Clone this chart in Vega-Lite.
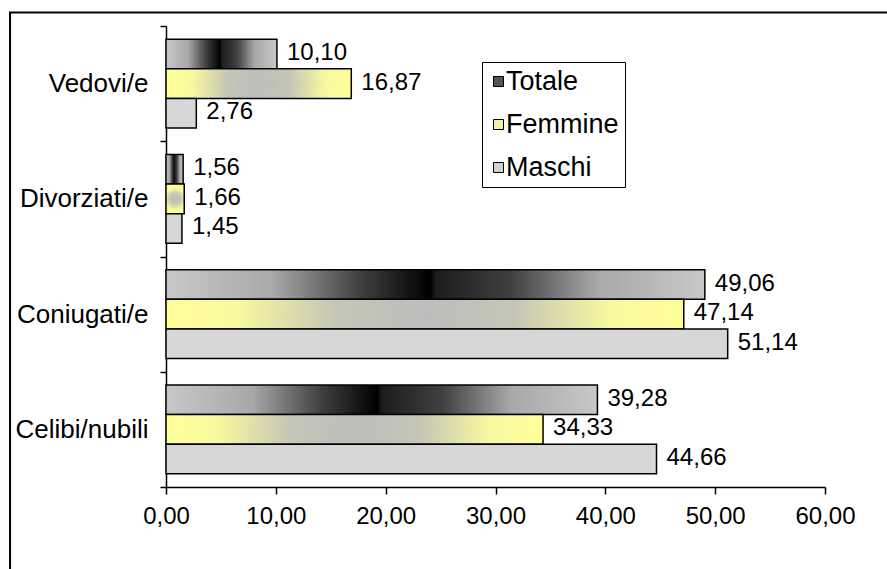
{
  "$schema": "https://vega.github.io/schema/vega-lite/v6.json",
  "width": 659,
  "height": 461,
  "autosize": {"type": "none"},
  "padding": {"left": 166, "top": 26, "right": 62, "bottom": 82},
  "background": "white",
  "config": {
    "locale": {"number": {"decimal": ",", "thousands": ".", "grouping": [3], "currency": ["", " €"]}},
    "font": "Liberation Sans",
    "view": {"stroke": null},
    "axis": {
      "labelFont": "Liberation Sans",
      "labelFontSize": 24,
      "labelColor": "black",
      "domainColor": "black",
      "domainWidth": 1.5,
      "tickColor": "black",
      "tickWidth": 1.5,
      "grid": false,
      "title": null
    },
    "legend": {
      "labelFont": "Liberation Sans",
      "labelFontSize": 27,
      "labelColor": "black"
    }
  },
  "layer": [
    {
      "description": "outer frame of the chart area",
      "data": {"values": [{}]},
      "mark": {"type": "rect", "filled": false, "stroke": "black", "strokeWidth": 2},
      "encoding": {
        "x": {"datum": -14.2, "type": "quantitative", "scale": {"domain": [0, 60], "nice": false, "zero": false}, "axis": null},
        "x2": {"datum": 80},
        "y": {"datum": 1.0293, "type": "quantitative", "scale": {"domain": [0, 1], "nice": false, "zero": false}, "axis": null},
        "y2": {"datum": -0.5}
      }
    },
    {
      "data": {
        "values": [
          {"cat": "Vedovi/e", "series": "Totale", "value": 10.10},
          {"cat": "Vedovi/e", "series": "Femmine", "value": 16.87},
          {"cat": "Vedovi/e", "series": "Maschi", "value": 2.76},
          {"cat": "Divorziati/e", "series": "Totale", "value": 1.56},
          {"cat": "Divorziati/e", "series": "Femmine", "value": 1.66},
          {"cat": "Divorziati/e", "series": "Maschi", "value": 1.45},
          {"cat": "Coniugati/e", "series": "Totale", "value": 49.06},
          {"cat": "Coniugati/e", "series": "Femmine", "value": 47.14},
          {"cat": "Coniugati/e", "series": "Maschi", "value": 51.14},
          {"cat": "Celibi/nubili", "series": "Totale", "value": 39.28},
          {"cat": "Celibi/nubili", "series": "Femmine", "value": 34.33},
          {"cat": "Celibi/nubili", "series": "Maschi", "value": 44.66}
        ]
      },
      "encoding": {
        "x": {
          "field": "value",
          "type": "quantitative",
          "scale": {"domain": [0, 60], "nice": false, "zero": true},
          "axis": {
            "values": [0, 10, 20, 30, 40, 50, 60],
            "format": ".2f",
            "tickSize": 7,
            "labelPadding": 10,
            "labelFlush": false,
            "labelOverlap": false
          }
        },
        "y": {
          "field": "cat",
          "type": "nominal",
          "sort": ["Vedovi/e", "Divorziati/e", "Coniugati/e", "Celibi/nubili"],
          "scale": {"paddingInner": 0, "paddingOuter": 0},
          "axis": {"tickBand": "extent", "tickSize": 6, "labelPadding": 12, "labelFontSize": 26}
        },
        "yOffset": {
          "field": "series",
          "type": "nominal",
          "sort": ["Totale", "Femmine", "Maschi"],
          "scale": {"paddingInner": 0, "paddingOuter": 0.45}
        }
      },
      "layer": [
        {
          "description": "invisible bars that carry the series legend",
          "mark": {"type": "bar", "opacity": 0, "stroke": "black"},
          "encoding": {
            "fill": {
              "field": "series",
              "type": "nominal",
              "scale": {"domain": ["Totale", "Femmine", "Maschi"], "range": ["#555555", "#f2f2a6", "#d0d0d0"]},
              "legend": {
                "title": null,
                "orient": "none",
                "legendX": 316,
                "legendY": 36,
                "symbolType": "square",
                "symbolSize": 100,
                "symbolOpacity": 1,
                "symbolStrokeColor": "black",
                "symbolStrokeWidth": 1,
                "symbolOffset": -3,
                "strokeColor": "black",
                "fillColor": "white",
                "padding": 6,
                "rowPadding": 15,
                "labelOffset": -6
              }
            }
          }
        },
        {
          "mark": {"type": "bar", "stroke": "black", "strokeWidth": 1.5},
          "encoding": {
            "fill": {
              "condition": [
                {
                  "test": "datum.series === 'Totale'",
                  "value": {
                    "gradient": "linear", "x1": 0, "y1": 0, "x2": 1, "y2": 0,
                    "stops": [
                      {"offset": 0, "color": "#c8c8c8"},
                      {"offset": 0.2, "color": "#a8a8a8"},
                      {"offset": 0.36, "color": "#404040"},
                      {"offset": 0.49, "color": "#000000"},
                      {"offset": 0.5, "color": "#1c1c1c"},
                      {"offset": 0.64, "color": "#404040"},
                      {"offset": 0.8, "color": "#a8a8a8"},
                      {"offset": 1, "color": "#c8c8c8"}
                    ]
                  }
                },
                {
                  "test": "datum.series === 'Femmine'",
                  "value": {
                    "gradient": "radial", "x1": 0.5, "y1": 0.5, "r1": 0, "x2": 0.5, "y2": 0.5, "r2": 0.5,
                    "stops": [
                      {"offset": 0, "color": "#bcbcbc"},
                      {"offset": 0.35, "color": "#c6c6b6"},
                      {"offset": 0.72, "color": "#f8f8a0"},
                      {"offset": 1, "color": "#ffff99"}
                    ]
                  }
                }
              ],
              "value": "#d7d7d7"
            }
          }
        },
        {
          "mark": {"type": "text", "align": "left", "baseline": "middle", "dx": 10, "dy": -1, "fontSize": 24, "font": "Liberation Sans", "fill": "black"},
          "encoding": {
            "text": {"field": "value", "type": "quantitative", "format": ".2f"}
          }
        }
      ]
    }
  ],
  "resolve": {"scale": {"x": "independent", "y": "independent"}, "axis": {"x": "independent", "y": "independent"}}
}
